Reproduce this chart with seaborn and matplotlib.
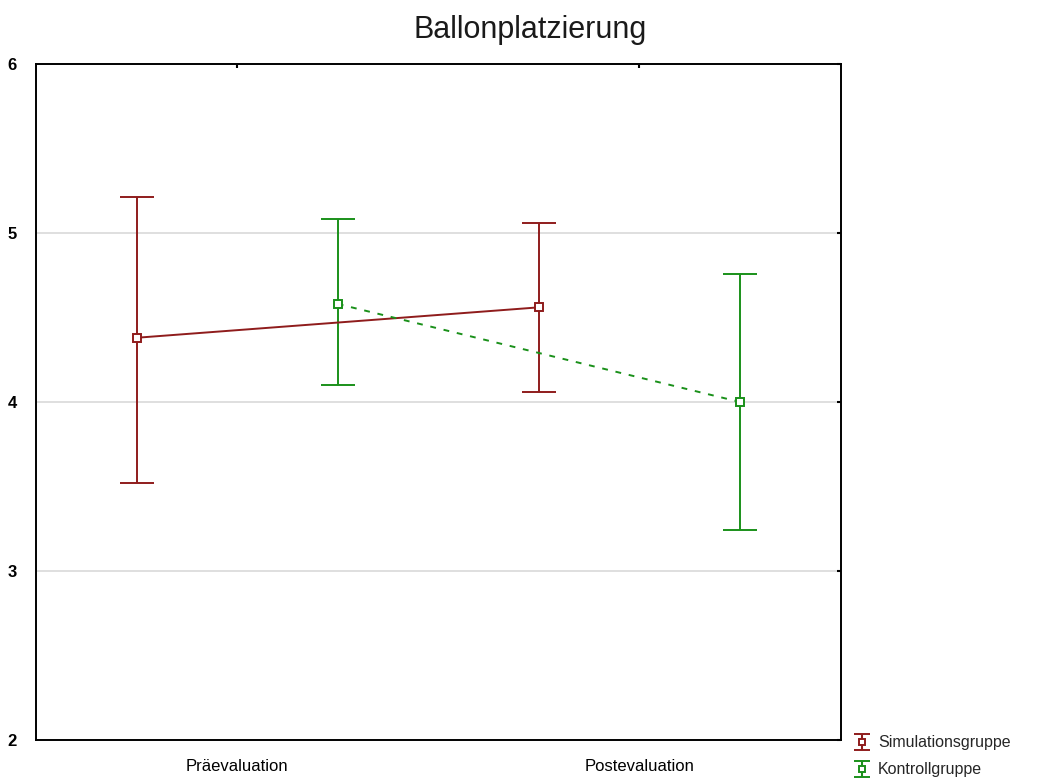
import numpy as np
import pandas as pd
import matplotlib
matplotlib.use("Agg")
import matplotlib.pyplot as plt
from matplotlib.legend_handler import HandlerErrorbar
from matplotlib.container import ErrorbarContainer
import seaborn as sns

# Data: group means and confidence interval bounds per evaluation time
zeitpunkte = ["Präevaluation", "Postevaluation"]
gruppen = ["Simulationsgruppe", "Kontrollgruppe"]
sim_mittel = [4.38, 4.56]
sim_unten = [3.52, 4.06]
sim_oben = [5.21, 5.06]
kon_mittel = [4.58, 4.00]
kon_unten = [4.10, 3.24]
kon_oben = [5.08, 4.76]

farben = {"Simulationsgruppe": "#8f1c1c", "Kontrollgruppe": "#1a901a"}
linien = {"Simulationsgruppe": "-", "Kontrollgruppe": (0, (3, 4))}
versatz = {"Simulationsgruppe": -0.25, "Kontrollgruppe": 0.25}

rows = []
for g, m, lo, hi in [("Simulationsgruppe", sim_mittel, sim_unten, sim_oben),
                     ("Kontrollgruppe", kon_mittel, kon_unten, kon_oben)]:
    for i, z in enumerate(zeitpunkte):
        rows.append({"gruppe": g, "zeit": z, "idx": i, "mittel": m[i], "unten": lo[i], "oben": hi[i]})
df = pd.DataFrame(rows)
df["x"] = df["idx"] + df["gruppe"].map(versatz)

sns.set_style("white")
plt.rcParams["font.family"] = ["Liberation Sans", "DejaVu Sans"]

fig = plt.figure(figsize=(10.6, 7.82), dpi=100)
ax = fig.add_axes([0.034, 0.0537, 0.759, 0.8645])

ax.yaxis.grid(True, color="#d9d9d9", linewidth=1.2)
ax.set_axisbelow(True)

handles = []
for g in gruppen:
    d = df[df["gruppe"] == g]
    sns.lineplot(data=d, x="x", y="mittel", ax=ax, color=farben[g],
                 linestyle=linien[g], linewidth=1.4, legend=False,
                 marker="s", markersize=6, markerfacecolor="white",
                 markeredgecolor=farben[g], markeredgewidth=1.4, zorder=3)
    ax.errorbar(d["x"], d["mittel"],
                yerr=[d["mittel"] - d["unten"], d["oben"] - d["mittel"]],
                fmt="none", ecolor=farben[g], elinewidth=1.4,
                capsize=12, capthick=1.4, zorder=2)
    # legend key: small error bar glyph with a hollow square
    h = ax.errorbar([0.0], [np.nan], yerr=[0.1], fmt="s", color=farben[g],
                    markersize=5, markerfacecolor="white", markeredgewidth=1.4,
                    capsize=5.5, elinewidth=1.5, capthick=1.5)
    handles.append(h)

ax.set_xlim(-0.5, 1.5)
ax.set_ylim(2, 6)
ax.set_xticks([0, 1])
ax.set_xticklabels(zeitpunkte)
ax.set_yticks([2, 3, 4, 5, 6])
ax.set_xlabel("")
ax.set_ylabel("")
ax.tick_params(axis="both", direction="in", length=3, width=1.5, labelsize=12,
               top=True, right=True, colors="black")
ax.tick_params(axis="y", pad=14)
ax.tick_params(axis="x", pad=14)
for lbl in ax.get_yticklabels():
    lbl.set_fontweight("bold")
for s in ax.spines.values():
    s.set_color("black")
    s.set_linewidth(1.4)

fig.text(0.5, 0.961, "Ballonplatzierung", ha="center", va="center",
         fontsize=22, color="#1a1a1a")

fig.legend(handles=handles, labels=gruppen, loc="lower left",
           bbox_to_anchor=(0.804, 0.004), frameon=False, fontsize=11.5,
           handlelength=1.0, handletextpad=0.5, labelspacing=0.75,
           borderaxespad=0.0, borderpad=0.1,
           handler_map={ErrorbarContainer: HandlerErrorbar(xerr_size=0.5, yerr_size=0.5)})

fig.savefig("out.png", dpi=100)
